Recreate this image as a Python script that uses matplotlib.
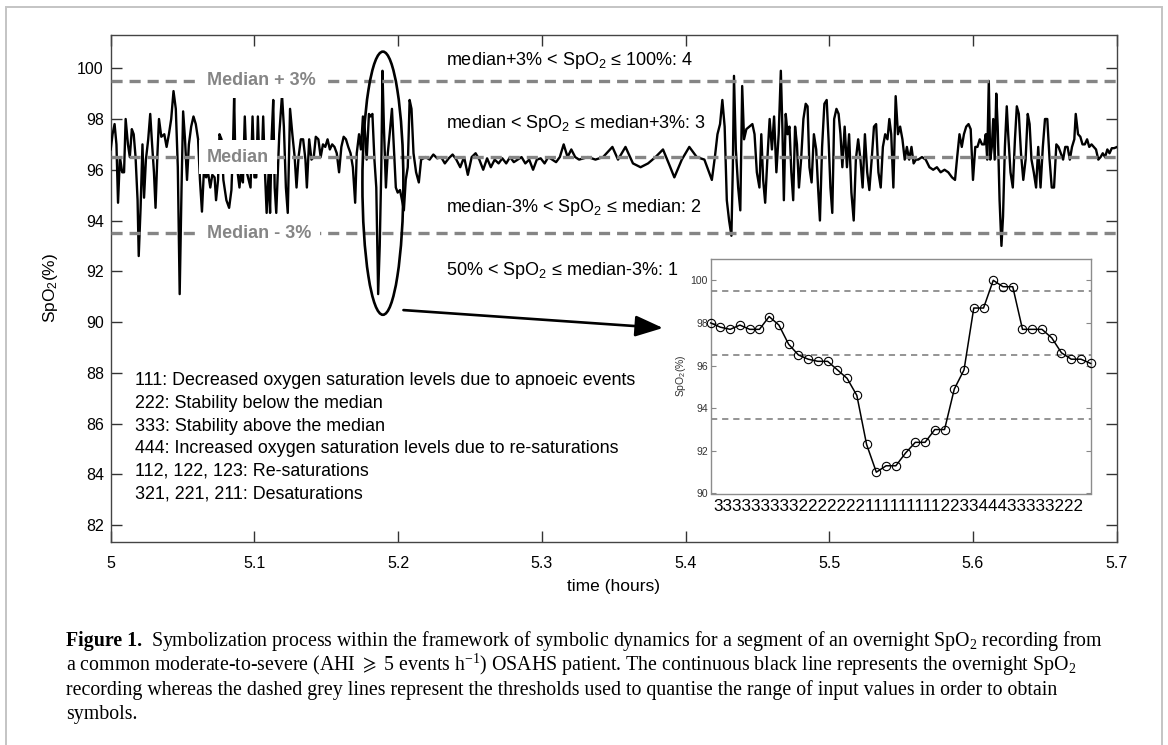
import matplotlib
matplotlib.use("Agg")
import matplotlib.pyplot as plt
from matplotlib.patches import Ellipse, Rectangle

plt.rcParams["font.family"] = ["Liberation Sans", "DejaVu Sans"]
plt.rcParams["mathtext.default"] = "regular"
plt.rcParams["lines.scale_dashes"] = False

# ---- overnight SpO2 segment (vertices) ----
time_h = [
    5.0000, 5.0013, 5.0027, 5.0040, 5.0051, 5.0064, 5.0080, 5.0093, 5.0104, 5.0120,
    5.0133, 5.0147, 5.0160, 5.0173, 5.0187, 5.0195, 5.0208, 5.0221, 5.0232, 5.0245,
    5.0261, 5.0275, 5.0288, 5.0301, 5.0312, 5.0325, 5.0336, 5.0352, 5.0373, 5.0389,
    5.0405, 5.0421, 5.0437, 5.0453, 5.0467, 5.0480, 5.0493, 5.0504, 5.0517, 5.0531,
    5.0544, 5.0560, 5.0576, 5.0592, 5.0608, 5.0621, 5.0635, 5.0648, 5.0664, 5.0677,
    5.0693, 5.0707, 5.0723, 5.0733, 5.0747, 5.0757, 5.0771, 5.0784, 5.0805, 5.0824,
    5.0840, 5.0851, 5.0859, 5.0869, 5.0883, 5.0896, 5.0907, 5.0920, 5.0933, 5.0947,
    5.0960, 5.0973, 5.0987, 5.1000, 5.1013, 5.1024, 5.1037, 5.1051, 5.1061, 5.1072,
    5.1085, 5.1099, 5.1109, 5.1120, 5.1131, 5.1141, 5.1152, 5.1173, 5.1192, 5.1205,
    5.1219, 5.1232, 5.1248, 5.1264, 5.1280, 5.1293, 5.1307, 5.1323, 5.1339, 5.1355,
    5.1365, 5.1381, 5.1397, 5.1413, 5.1427, 5.1445, 5.1461, 5.1477, 5.1493, 5.1509,
    5.1525, 5.1541, 5.1557, 5.1573, 5.1589, 5.1605, 5.1621, 5.1637, 5.1653, 5.1669,
    5.1685, 5.1701, 5.1712, 5.1728, 5.1741, 5.1755, 5.1768, 5.1781, 5.1797, 5.1808,
    5.1821, 5.1835, 5.1848, 5.1861, 5.1872, 5.1883, 5.1891, 5.1901, 5.1915, 5.1928,
    5.1941, 5.1957, 5.1971, 5.1984, 5.1997, 5.2013, 5.2027, 5.2040, 5.2053, 5.2067,
    5.2080, 5.2093, 5.2107, 5.2125, 5.2144, 5.2160, 5.2192, 5.2219, 5.2245, 5.2272,
    5.2299, 5.2325, 5.2352, 5.2379, 5.2405, 5.2432, 5.2459, 5.2485, 5.2512, 5.2539,
    5.2565, 5.2592, 5.2619, 5.2645, 5.2672, 5.2699, 5.2725, 5.2752, 5.2779, 5.2805,
    5.2832, 5.2859, 5.2885, 5.2912, 5.2939, 5.2965, 5.2992, 5.3019, 5.3045, 5.3072,
    5.3099, 5.3125, 5.3152, 5.3179, 5.3205, 5.3232, 5.3259, 5.3321, 5.3373, 5.3426,
    5.3491, 5.3530, 5.3582, 5.3634, 5.3687, 5.3739, 5.3791, 5.3843, 5.3883, 5.3922,
    5.3974, 5.4026, 5.4078, 5.4131, 5.4157, 5.4183, 5.4204, 5.4222, 5.4240, 5.4256,
    5.4272, 5.4287, 5.4303, 5.4319, 5.4329, 5.4337, 5.4350, 5.4366, 5.4381, 5.4394,
    5.4407, 5.4423, 5.4444, 5.4465, 5.4480, 5.4496, 5.4514, 5.4527, 5.4540, 5.4554,
    5.4569, 5.4585, 5.4601, 5.4616, 5.4632, 5.4648, 5.4663, 5.4674, 5.4684, 5.4697,
    5.4710, 5.4723, 5.4736, 5.4749, 5.4762, 5.4775, 5.4789, 5.4804, 5.4820, 5.4836,
    5.4849, 5.4862, 5.4877, 5.4893, 5.4909, 5.4922, 5.4935, 5.4950, 5.4966, 5.4982,
    5.4995, 5.5008, 5.5021, 5.5034, 5.5050, 5.5065, 5.5078, 5.5091, 5.5107, 5.5123,
    5.5138, 5.5154, 5.5170, 5.5185, 5.5201, 5.5217, 5.5232, 5.5248, 5.5264, 5.5279,
    5.5295, 5.5311, 5.5326, 5.5342, 5.5358, 5.5373, 5.5389, 5.5405, 5.5418, 5.5431,
    5.5446, 5.5462, 5.5478, 5.5493, 5.5509, 5.5525, 5.5540, 5.5556, 5.5572, 5.5587,
    5.5603, 5.5619, 5.5645, 5.5671, 5.5697, 5.5723, 5.5749, 5.5775, 5.5802, 5.5828,
    5.5854, 5.5875, 5.5890, 5.5906, 5.5922, 5.5937, 5.5953, 5.5969, 5.5984, 5.6000,
    5.6016, 5.6031, 5.6047, 5.6063, 5.6078, 5.6089, 5.6099, 5.6110, 5.6120, 5.6131,
    5.6141, 5.6151, 5.6162, 5.6172, 5.6185, 5.6198, 5.6209, 5.6222, 5.6235, 5.6245,
    5.6261, 5.6277, 5.6292, 5.6305, 5.6319, 5.6334, 5.6350, 5.6366, 5.6381, 5.6394,
    5.6407, 5.6423, 5.6439, 5.6454, 5.6470, 5.6486, 5.6501, 5.6517, 5.6533, 5.6548,
    5.6564, 5.6580, 5.6595, 5.6611, 5.6627, 5.6642, 5.6658, 5.6674, 5.6689, 5.6705,
    5.6715, 5.6731, 5.6747, 5.6762, 5.6778, 5.6794, 5.6809, 5.6825, 5.6841, 5.6856,
    5.6872, 5.6888, 5.6903, 5.6919, 5.6935, 5.6950, 5.6966, 5.6982, 5.7003,
]
spo2 = [
    96.8, 97.4, 97.8, 97.0, 94.7, 96.5, 95.9, 95.9, 98.0, 97.0,
    96.5, 97.6, 97.4, 96.5, 94.8, 92.6, 94.5, 97.0, 94.9, 96.4,
    97.2, 98.2, 97.0, 95.9, 94.5, 96.6, 98.0, 97.3, 97.4, 96.9,
    97.4, 98.0, 99.1, 98.4, 96.1, 91.1, 95.3, 98.3, 97.2, 95.6,
    97.0, 97.7, 98.1, 97.8, 97.2, 95.6, 94.35, 95.9, 95.7, 95.9,
    95.3, 95.8, 95.7, 94.8, 95.6, 97.4, 97.2, 95.6, 94.8, 94.5,
    95.2, 96.9, 98.9, 95.9, 95.9, 95.3, 96.0, 95.5, 98.1, 95.9,
    95.6, 95.3, 98.1, 95.7, 95.7, 98.1, 95.9, 96.3, 98.1, 96.1,
    94.3, 95.9, 94.3, 97.3, 98.75, 95.3, 94.3, 97.4, 98.95, 97.7,
    95.3, 94.3, 98.4, 97.4, 96.5, 95.3, 96.5, 97.2, 97.2, 96.4,
    95.3, 97.2, 96.4, 96.5, 97.3, 97.2, 96.5, 97.0, 96.9, 97.2,
    96.8, 97.0, 96.9, 96.65, 95.9, 96.9, 97.3, 97.2, 96.9, 96.65,
    96.1, 94.7, 96.65, 97.4, 96.8, 98.1, 97.6, 96.4, 98.2, 98.1,
    98.2, 96.4, 95.3, 91.1, 93.0, 96.1, 99.9, 97.7, 95.3, 96.65,
    97.4, 98.4, 96.8, 95.3, 95.1, 95.2, 94.8, 94.4, 95.6, 96.1,
    98.75, 98.4, 96.65, 95.9, 95.5, 96.4, 96.5, 96.4, 96.6, 96.45,
    96.5, 96.25, 96.45, 96.6, 96.4, 96.1, 96.5, 95.8, 96.5, 96.65,
    96.4, 96.0, 96.45, 96.1, 96.4, 96.25, 96.45, 96.25, 96.5, 96.3,
    96.4, 96.5, 96.25, 96.4, 96.0, 96.4, 96.45, 96.25, 96.5, 96.4,
    96.3, 96.5, 97.0, 96.5, 96.8, 96.5, 96.4, 96.5, 96.4, 96.5,
    96.9, 96.4, 96.9, 96.25, 96.1, 96.25, 96.5, 96.8, 96.25, 95.7,
    96.4, 96.9, 96.5, 96.4, 96.0, 95.6, 96.5, 97.4, 97.8, 98.75,
    97.7, 94.8, 94.0, 93.4, 96.1, 99.7, 96.8, 95.3, 94.4, 99.3,
    97.2, 97.6, 97.7, 97.8, 97.4, 95.9, 95.3, 97.4, 95.6, 94.7,
    96.4, 98.0, 96.8, 98.1, 95.9, 97.4, 99.9, 97.6, 94.8, 98.2,
    97.4, 97.7, 95.9, 94.8, 97.7, 97.0, 95.3, 96.4, 98.0, 98.6,
    98.5, 96.1, 95.5, 97.4, 96.8, 95.3, 94.0, 96.9, 98.6, 98.75,
    97.2, 95.3, 94.3, 98.0, 98.4, 98.2, 97.4, 96.1, 97.7, 96.1,
    97.4, 95.1, 94.0, 96.4, 97.2, 96.4, 95.3, 97.4, 95.9, 95.2,
    96.4, 97.7, 97.8, 95.9, 95.3, 96.9, 97.4, 97.2, 98.0, 97.4,
    95.3, 98.9, 97.4, 97.7, 97.2, 96.4, 96.9, 96.4, 96.9, 96.25,
    96.4, 96.4, 96.5, 96.4, 96.1, 96.0, 96.1, 95.9, 96.0, 95.9,
    95.7, 95.6, 96.5, 97.4, 96.9, 97.4, 97.7, 97.8, 97.6, 95.6,
    96.9, 96.9, 97.2, 97.0, 97.0, 97.4, 96.4, 99.5, 96.4, 96.9,
    98.0, 96.4, 99.0, 97.7, 94.8, 93.0, 94.15, 96.9, 98.5, 97.4,
    95.9, 95.3, 97.2, 98.5, 98.2, 96.65, 95.6, 96.4, 98.2, 97.8,
    96.4, 95.9, 95.3, 96.9, 95.3, 96.9, 98.0, 98.0, 96.4, 95.3,
    95.3, 97.0, 96.9, 96.65, 96.4, 96.9, 96.9, 96.4, 96.9, 97.2,
    98.2, 97.4, 97.3, 97.0, 97.0, 97.2, 96.9, 97.0, 96.9, 96.8,
    96.4, 96.5, 96.65, 96.5, 96.8, 96.65, 96.85, 96.85, 96.9,
]

median = 96.5
thresholds = [median - 3, median, median + 3]
threshold_names = ["Median - 3%", "Median", "Median + 3%"]

x_ticks = [5, 5.1, 5.2, 5.3, 5.4, 5.5, 5.6, 5.7]
x_tick_labels = ["5", "5.1", "5.2", "5.3", "5.4", "5.5", "5.6", "5.7"]
y_ticks = [82, 84, 86, 88, 90, 92, 94, 96, 98, 100]

zone_labels = [
    "median+3% < SpO$_2$ \u2264 100%: 4",
    "median < SpO$_2$ \u2264 median+3%: 3",
    "median-3% < SpO$_2$ \u2264 median: 2",
    "50% < SpO$_2$ \u2264 median-3%: 1",
]
zone_label_y = [100.11, 97.63, 94.35, 91.85]

pattern_lines = [
    "111: Decreased oxygen saturation levels due to apnoeic events",
    "222: Stability below the median",
    "333: Stability above the median",
    "444: Increased oxygen saturation levels due to re-saturations",
    "112, 122, 123: Re-saturations",
    "321, 221, 211: Desaturations",
]
pattern_y = [87.506, 86.615, 85.724, 84.834, 83.943, 83.052]

# ---- zoomed segment (one sample per second) ----
inset_spo2 = [
    98.0, 97.8, 97.7, 97.9, 97.7, 97.7, 98.3, 97.9, 97.0, 96.5,
    96.3, 96.2, 96.2, 95.8, 95.4, 94.6, 92.3, 91.0, 91.3, 91.3,
    91.9, 92.4, 92.4, 93.0, 93.0, 94.9, 95.8, 98.7, 98.7, 100.0,
    99.7, 99.7, 97.7, 97.7, 97.7, 97.3, 96.6, 96.3, 96.3, 96.1,
]
inset_idx = list(range(1, len(inset_spo2) + 1))
inset_yticks = [90, 92, 94, 96, 98, 100]


def symbolize(v):
    if v > thresholds[2]:
        return "4"
    if v > thresholds[1]:
        return "3"
    if v > thresholds[0]:
        return "2"
    return "1"


symbols = "".join(symbolize(v) for v in inset_spo2)

caption_lines = [
    "Symbolization process within the framework of symbolic dynamics for a segment of an overnight SpO$_2$ recording from",
    r"a common moderate-to-severe (AHI $\mathrm{\geqslant}$ 5 events h$^{-1}$) OSAHS patient. The continuous black line represents the overnight SpO$_2$",
    "recording whereas the dashed grey lines represent the thresholds used to quantise the range of input values in order to obtain",
    "symbols.",
]

GREY = "#858585"
W, H = 1168, 745

fig = plt.figure(figsize=(W / 100, H / 100), dpi=100)

# outer frame of the figure panel
fig.add_artist(Rectangle((6 / W, -0.1), (1162 - 6) / W, 1 - 7 / H + 0.1,
                         transform=fig.transFigure, fill=False,
                         ec="#c4c4c4", lw=1.4))

ax = fig.add_axes([110.7 / W, 1 - 542.3 / H, 1006 / W, 507.3 / H])
ax.plot(time_h, spo2, color="black", lw=1.7, zorder=3)
for y in thresholds:
    ax.axhline(y, color=GREY, lw=2.4, dashes=(8, 5), zorder=4)
for y, name in zip(thresholds, threshold_names):
    ax.text(5.067, y, name, color=GREY, fontsize=13, fontweight="bold",
            ha="left", va="center", zorder=5,
            bbox=dict(facecolor="white", edgecolor="none", pad=6))

for y, s in zip(zone_label_y, zone_labels):
    ax.text(5.2333, y, s, fontsize=13, ha="left", va="baseline", zorder=5)
for y, s in zip(pattern_y, pattern_lines):
    ax.text(5.0167, y, s, fontsize=12.9, ha="left", va="baseline", zorder=5)

ax.add_patch(Ellipse((5.1894, 95.47), 0.0285, 10.37, fill=False,
                     ec="black", lw=1.9, zorder=6))
ax.annotate("", xy=(5.3843, 89.765), xytext=(5.2037, 90.47),
            arrowprops=dict(arrowstyle="-|>,head_length=1.0,head_width=0.38",
                            mutation_scale=17, lw=1.9, color="black",
                            shrinkA=0, shrinkB=0), zorder=6)

ax.set_xlim(5, 5.7)
ax.set_ylim(81.32, 101.31)
ax.set_xticks(x_ticks)
ax.set_xticklabels(x_tick_labels)
ax.set_yticks(y_ticks)
ax.tick_params(direction="in", length=8, width=1, top=True, right=True,
               labelsize=11.5, colors="#333333", labelcolor="black")
ax.tick_params(axis="x", pad=10)
ax.tick_params(axis="y", pad=5)
for sp in ax.spines.values():
    sp.set_color("#444444")
    sp.set_linewidth(1.0)

fig.text(50 / W, 1 - 288 / H, "SpO$_2$(%)", rotation=90, fontsize=12.5,
         ha="center", va="center")
fig.text(613.7 / W, 1 - 587 / H, "time (hours)", fontsize=12.5,
         ha="center", va="center")

# inset with the symbolised samples
ins = fig.add_axes([710.7 / W, 1 - 493.5 / H, 380 / W, 234.5 / H])
for y in thresholds:
    ins.axhline(y, color="#777777", lw=1.1, dashes=(4.5, 3.5), zorder=1)
ins.plot(inset_idx, inset_spo2, color="black", lw=1.1, marker="o", ms=6,
         mfc="none", mec="black", mew=0.8, zorder=3, clip_on=False)
ins.set_xlim(1, len(inset_spo2))
ins.set_ylim(90, 101)
ins.set_xticks([])
ins.set_yticks(inset_yticks)
ins.tick_params(direction="in", length=3.5, width=0.8, right=True,
                labelsize=7.5, colors="#888888", labelcolor="#333333", pad=2)
for sp in ins.spines.values():
    sp.set_color("#8c8c8c")
    sp.set_linewidth(1.0)
fig.text(681 / W, 1 - 376 / H, "SpO$_2$(%)", rotation=90, fontsize=7.5,
         color="#333333", ha="center", va="center")
fig.text(898.5 / W, 1 - 506.7 / H, symbols, fontsize=12.3, ha="center",
         va="center")

# caption
serif = ["Liberation Serif", "DejaVu Serif"]
cap_x = 66 / W
cap_size = 14.3
cap_base = [646, 670.5, 695, 719.5]
head = fig.text(cap_x, 1 - cap_base[0] / H, "Figure 1.", family=serif,
                fontweight="bold", fontsize=cap_size, va="baseline")
fig.canvas.draw()
bb = head.get_window_extent()
fig.text(bb.x1 / W + 9 / W, 1 - cap_base[0] / H, caption_lines[0],
         family=serif, fontsize=cap_size, va="baseline", math_fontfamily="stix")
for yb, s in zip(cap_base[1:], caption_lines[1:]):
    fig.text(cap_x, 1 - yb / H, s, family=serif, fontsize=cap_size,
             va="baseline", math_fontfamily="stix")

fig.savefig("out.png", dpi=100)
